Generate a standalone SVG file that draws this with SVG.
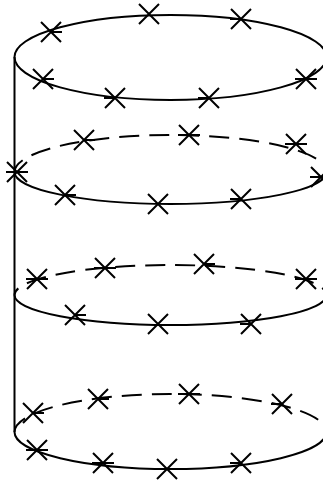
<svg xmlns="http://www.w3.org/2000/svg" width="323" height="481" viewBox="0 0 323 481">
<defs>
<g id="x"><path d="M-10,-10L10,10M-10,10L10,-10"/></g>
<g id="xr"><path d="M-10,-10L10,10M-10,10L10,-10M0,0H11"/></g>
<g id="xl"><path d="M-10,-10L10,10M-10,10L10,-10M-11,0H0"/></g>
<g id="xh"><path d="M-10,-10L10,10M-10,10L10,-10M-11,0H11"/></g>
</defs>
<style>
path{fill:none;stroke:#000;stroke-width:2}
.d{stroke-dasharray:20 10}
</style>
<rect width="323" height="481" fill="#fff"/>
<g id="connectors">
<path d="M14.5,57V432"/>
<path d="M14.5,57A156,42 0 0 1 326.500,57A156,43 0 0 1 14.500,57Z"/>
<path d="M14.500,172A156,32 0 0 0 326.500,172"/>
<path class="d" stroke-dashoffset="5" d="M14.500,172A156,37 0 0 1 326.500,172"/>
<path d="M14.500,295A156,30 0 0 0 326.500,295"/>
<path class="d" stroke-dashoffset="12" d="M14.500,295A156,30 0 0 1 326.500,295"/>
<path d="M14.500,432A156,37 0 0 0 326.500,432"/>
<path class="d" stroke-dashoffset="2" d="M14.500,432A156,38 0 0 1 326.500,432"/>
</g>
<g id="n1"><use href="#xr" x="51" y="32"/></g>
<g id="n2"><use href="#x" x="149" y="14"/></g>
<g id="n3"><use href="#xl" x="241" y="19"/></g>
<g id="n4"><use href="#xr" x="43" y="79"/></g>
<g id="n5"><use href="#xl" x="115" y="98"/></g>
<g id="n6"><use href="#xl" x="209" y="98"/></g>
<g id="n7"><use href="#xh" x="306" y="79"/></g>
<g id="n8"><use href="#xr" x="84" y="140"/></g>
<g id="n9"><use href="#xh" x="189" y="135"/></g>
<g id="n10"><use href="#xh" x="296" y="144"/></g>
<g id="n11"><use href="#xh" x="17" y="172"/></g>
<g id="n12"><use href="#xr" x="65" y="195"/></g>
<g id="n13"><use href="#x" x="158" y="204"/></g>
<g id="n14"><use href="#xl" x="241" y="199"/></g>
<g id="n15"><use href="#xh" x="321" y="177"/></g>
<g id="n16"><use href="#xh" x="37" y="279"/></g>
<g id="n17"><use href="#xh" x="105" y="268"/></g>
<g id="n18"><use href="#xr" x="204" y="264"/></g>
<g id="n19"><use href="#xh" x="306" y="279"/></g>
<g id="n20"><use href="#xr" x="75" y="315"/></g>
<g id="n21"><use href="#x" x="158" y="324"/></g>
<g id="n22"><use href="#xl" x="251" y="324"/></g>
<g id="n23"><use href="#xr" x="33" y="413"/></g>
<g id="n24"><use href="#xr" x="98" y="399"/></g>
<g id="n25"><use href="#xh" x="189" y="394"/></g>
<g id="n26"><use href="#xl" x="282" y="404"/></g>
<g id="n27"><use href="#xh" x="37" y="450"/></g>
<g id="n28"><use href="#xh" x="103" y="463"/></g>
<g id="n29"><use href="#x" x="167" y="469"/></g>
<g id="n30"><use href="#xl" x="241" y="463"/></g>
</svg>
